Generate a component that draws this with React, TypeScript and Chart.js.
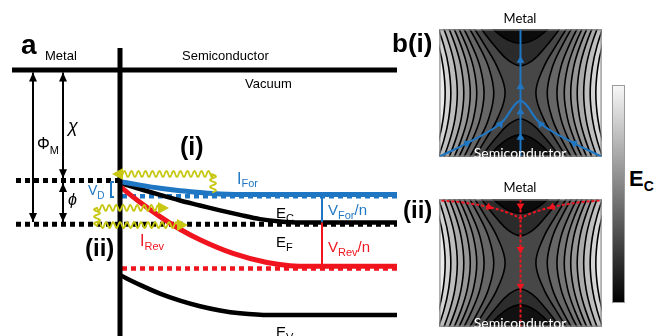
import React, { useEffect, useRef } from 'react';
import { Chart, registerables } from 'chart.js';

Chart.register(...registerables);

// ===== Panel a: band diagram. x = position from the interface (nm), y = energy (eV, vacuum = 0)
const POSITION_RANGE = [-6, 14];
const ENERGY_RANGE = [-7.6, 2.0];

const VACUUM_X = [-5.4, 13.85];
const E_VACUUM = 0;
const INTERFACE_E = [0.63, -7.8];
const BARRIER_X = [-5.2, 0];
const E_BARRIER = -3.16;
const FERMI_X = [-5.2, 13.85];
const E_FERMI = -4.41;
const QUASI_X = [0.1, 13.85];
const E_FOR_QUASI = -3.61;
const E_REV_QUASI = -5.67;

const EC_X = [0, 1, 2, 3, 4, 5, 6, 7, 8, 9, 13.85];
const EC_E = [-3.23, -3.4, -3.57, -3.73, -3.87, -4.01, -4.14, -4.26, -4.33, -4.36, -4.36];
const FOR_X = [0, 1, 2, 3, 4, 5, 6.5, 13.85];
const FOR_E = [-3.19, -3.29, -3.38, -3.45, -3.5, -3.54, -3.56, -3.56];
const REV_X = [0, 1, 2, 3, 4, 5.65, 7.35, 8.5, 9.5, 13.85];
const REV_E = [-3.33, -3.78, -4.19, -4.55, -4.85, -5.24, -5.5, -5.59, -5.61, -5.61];
const EV_X = [0, 1, 2, 3, 4, 5, 6, 7.5, 13.85];
const EV_E = [-5.86, -6.14, -6.39, -6.59, -6.75, -6.87, -6.95, -7.0, -7.0];

const SPLIT_X = 10.1;
const FOR_SPLIT_E = [-3.64, -4.36];
const REV_SPLIT_E = [-4.36, -5.62];

const PHI_M_X = -4.35;
const PHI_M_E = [-0.07, -4.34];
const CHI_X = -2.85;
const CHI_E = [-0.07, -3.09];
const PHI_B_E = [-3.23, -4.34];
const VD_X = [-0.3, -0.45, -0.45, -0.3];
const VD_E = [-3.2, -3.2, -3.63, -3.63];

const PHOTON_I_X = [4.65, 4.65, -0.4];
const PHOTON_I_E = [-3.49, -2.97, -2.97];
const PHOTON_IIA_X = [-1.15, 2.45];
const PHOTON_IIA_E = [-3.94, -3.94];
const PHOTON_IIB_X = [-1.15, -1.15, 3.4];
const PHOTON_IIB_E = [-3.94, -4.43, -4.43];

// ===== Panel b: E_C maps. u = lateral position, v = vertical position (both normalised -1..1)
const SADDLE_V = [1.5, 1.15, 0.75, 0.4, 0, -0.4, -0.75, -1.15, -1.5];
const SIDE_CONTOURS = [
  [0.816, 0.637, 0.44, 0.284, 0.19, 0.284, 0.44, 0.637, 0.816],
  [0.86, 0.692, 0.516, 0.392, 0.33, 0.392, 0.516, 0.692, 0.86],
  [0.912, 0.757, 0.6, 0.497, 0.45, 0.497, 0.6, 0.757, 0.912],
  [0.96, 0.814, 0.67, 0.58, 0.54, 0.58, 0.67, 0.814, 0.96],
  [1.007, 0.869, 0.736, 0.655, 0.62, 0.655, 0.736, 0.869, 1.007],
  [1.058, 0.928, 0.805, 0.731, 0.7, 0.731, 0.805, 0.928, 1.058],
  [1.113, 0.989, 0.875, 0.808, 0.78, 0.808, 0.875, 0.989, 1.113],
  [1.17, 1.054, 0.947, 0.886, 0.86, 0.886, 0.947, 1.054, 1.17],
  [1.223, 1.111, 1.011, 0.954, 0.93, 0.954, 1.011, 1.111, 1.223],
];
const CAP_U = [-0.7, -0.45, -0.3, -0.15, 0, 0.15, 0.3, 0.45, 0.7];
const TOP_CONTOURS = [
  [1.391, 0.953, 0.712, 0.515, 0.43, 0.515, 0.712, 0.953, 1.391],
  [1.535, 1.153, 0.964, 0.829, 0.779, 0.829, 0.964, 1.153, 1.535],
];
const BOTTOM_CONTOURS = [
  [-1.385, -0.944, -0.7, -0.498, -0.41, -0.498, -0.7, -0.944, -1.385],
  [-1.478, -1.077, -0.871, -0.718, -0.66, -0.718, -0.871, -1.077, -1.478],
];

const FORWARD_STEM_V = [-1, 1];
const FORWARD_BRANCH_U = [1.0, 0.647, 0.247, 0.07, 0];
const FORWARD_BRANCH_V = [-1.0, -0.78, -0.48, -0.185, -0.11];
const FORWARD_ARROW_U = [0, 0, 0, 0, -0.66, -0.25, 0.66, 0.25];
const FORWARD_ARROW_V = [0.51, 0.1, -0.3, -0.7, -0.79, -0.49, -0.79, -0.49];
const FORWARD_ARROW_DEG = [0, 0, 0, 0, 61, 37, -61, -37];

const REVERSE_STEM_V = [1, -1];
const REVERSE_BRANCH_U = [0.976, 0.7, 0.388, 0.15, 0];
const REVERSE_BRANCH_V = [0.985, 0.95, 0.881, 0.79, 0.704];
const REVERSE_ARROW_U = [0, 0, 0, -0.39, 0.39];
const REVERSE_ARROW_V = [0.9, 0.215, -0.363, 0.88, 0.88];
const REVERSE_ARROW_DEG = [180, 180, 180, 112, -112];

const COLORBAR_LEVELS = [0, 1];

// ===== styles
const BLUE = '#1f77c4';
const RED = '#f0141e';
const YELLOW = '#c8c814';
const CENTER_GRAY = '#474747';
const SIDE_GRAYS = ['#585858', '#666666', '#757575', '#858585', '#979797', '#aaaaaa', '#bebebe', '#d3d3d3', '#ebebeb'];
const TOP_GRAYS = ['#2b2b2b', '#0c0c0c'];
const BOTTOM_GRAYS = ['#2d2d2d', '#111111'];
const SANS = '"Liberation Sans", Arial, sans-serif';
const LATO = 'Lato, "Open Sans", sans-serif';

type P = { x: number; y: number };
const zip = (xs: number[], ys: number[]): P[] => xs.map((x, i) => ({ x, y: ys[i] }));
const flat = (xs: number[], y: number): P[] => xs.map((x) => ({ x, y }));
const vert = (x: number, ys: number[]): P[] => ys.map((y) => ({ x, y }));

function line(data: P[], color: string, width: number, extra: any = {}) {
  return { data, borderColor: color, backgroundColor: color, borderWidth: width, pointRadius: 0, fill: false, tension: 0, ...extra };
}

function head(ctx: CanvasRenderingContext2D, tip: P, from: P, len: number, w: number, color: string) {
  const dx = tip.x - from.x, dy = tip.y - from.y;
  const d = Math.hypot(dx, dy) || 1;
  const ux = dx / d, uy = dy / d;
  const bx = tip.x - ux * len, by = tip.y - uy * len;
  ctx.save();
  ctx.fillStyle = color;
  ctx.beginPath();
  ctx.moveTo(tip.x, tip.y);
  ctx.lineTo(bx - uy * w, by + ux * w);
  ctx.lineTo(bx + uy * w, by - ux * w);
  ctx.closePath();
  ctx.fill();
  ctx.restore();
}

function wavy(ctx: CanvasRenderingContext2D, p: P[], cfg: any, color: string) {
  const segs: any[] = [];
  let total = 0;
  for (let i = 0; i < p.length - 1; i++) {
    const dx = p[i + 1].x - p[i].x, dy = p[i + 1].y - p[i].y;
    const len = Math.hypot(dx, dy) || 1;
    segs.push({ x: p[i].x, y: p[i].y, ux: dx / len, uy: dy / len, len });
    total += len;
  }
  const stop = total - cfg.headLength + 1;
  ctx.save();
  ctx.strokeStyle = color;
  ctx.lineWidth = cfg.lineWidth;
  ctx.lineJoin = 'round';
  ctx.lineCap = 'round';
  ctx.beginPath();
  let acc = 0;
  let started = false;
  for (const s of segs) {
    for (let t = 0; t <= s.len; t += 0.5) {
      const d = acc + t;
      if (d > stop) break;
      const off = cfg.amp * Math.sin((2 * Math.PI * d) / cfg.wavelength);
      const x = s.x + s.ux * t - s.uy * off;
      const y = s.y + s.uy * t + s.ux * off;
      if (!started) { ctx.moveTo(x, y); started = true; } else ctx.lineTo(x, y);
    }
    acc += s.len;
  }
  ctx.stroke();
  const last = segs[segs.length - 1];
  const tip = p[p.length - 1];
  head(ctx, tip, { x: tip.x - last.ux, y: tip.y - last.uy }, cfg.headLength, cfg.headWidth, color);
  ctx.restore();
}

const decorPlugin = {
  id: 'decor',
  afterDatasetsDraw(chart: any) {
    const ctx = chart.ctx;
    chart.data.datasets.forEach((ds: any, i: number) => {
      const meta = chart.getDatasetMeta(i);
      const p: P[] = meta.data.map((e: any) => ({ x: e.x, y: e.y }));
      if (p.length < 2) return;
      if (ds.wave) wavy(ctx, p, ds.wave, ds.borderColor);
      if (ds.arrowHead) {
        const a = ds.arrowHead;
        if (a.end) head(ctx, p[p.length - 1], p[p.length - 2], a.length, a.width, ds.borderColor);
        if (a.start) head(ctx, p[0], p[1], a.length, a.width, ds.borderColor);
      }
    });
  },
};

function baseOptions(xr: number[], yr: number[]) {
  return {
    responsive: false,
    animation: false,
    events: [],
    layout: { padding: 0 },
    plugins: { legend: { display: false }, tooltip: { enabled: false }, title: { display: false } },
    scales: {
      x: { type: 'linear', min: xr[0], max: xr[1], display: false },
      y: { type: 'linear', min: yr[0], max: yr[1], display: false },
    },
    elements: { line: { capBezierPoints: false }, point: { radius: 0 } },
  };
}

function ordered(list: any[]) {
  return list.map((d, i) => ({ ...d, order: list.length - i }));
}

function bandConfig() {
  const dash = { borderDash: [5, 4], borderCapStyle: 'butt' };
  const arrowHead = (start: boolean, end: boolean) => ({ start, end, length: 9, width: 4 });
  const wave = { amp: 3, wavelength: 7, lineWidth: 1.8, headLength: 11, headWidth: 6 };
  const photon = (d: P[]) => ({ data: d, borderColor: YELLOW, showLine: false, pointRadius: 0, wave });
  const smooth = { cubicInterpolationMode: 'monotone' };
  const datasets = [
    line(flat(FERMI_X, E_FERMI), '#000', 5, dash),
    line(flat(BARRIER_X, E_BARRIER), '#000', 5, dash),
    line(flat(QUASI_X, E_FOR_QUASI), BLUE, 4.5, dash),
    line(flat(QUASI_X, E_REV_QUASI), RED, 4.5, dash),
    line(zip(EC_X, EC_E), '#000', 4.5, smooth),
    line(zip(FOR_X, FOR_E), BLUE, 5, smooth),
    line(zip(REV_X, REV_E), RED, 5, smooth),
    line(zip(EV_X, EV_E), '#000', 4.5, smooth),
    line(flat(VACUUM_X, E_VACUUM), '#000', 5),
    line(vert(0, INTERFACE_E), '#000', 5),
    line(vert(SPLIT_X, FOR_SPLIT_E), BLUE, 2),
    line(vert(SPLIT_X, REV_SPLIT_E), RED, 2),
    line(vert(PHI_M_X, PHI_M_E), '#000', 2, { arrowHead: arrowHead(true, true) }),
    line(vert(CHI_X, CHI_E), '#000', 2, { arrowHead: arrowHead(true, true) }),
    line(vert(CHI_X, PHI_B_E), '#000', 2, { arrowHead: arrowHead(true, true) }),
    line(zip(VD_X, VD_E), BLUE, 2),
    photon(zip(PHOTON_I_X, PHOTON_I_E)),
    photon(zip(PHOTON_IIA_X, PHOTON_IIA_E)),
    photon(zip(PHOTON_IIB_X, PHOTON_IIB_E)),
  ];
  return {
    type: 'line',
    data: { datasets: ordered(datasets) },
    options: baseOptions(POSITION_RANGE, ENERGY_RANGE),
    plugins: [decorPlugin],
  };
}

function shape(data: P[], color: string) {
  return { data, backgroundColor: color, borderColor: color, borderWidth: 0, pointRadius: 0, fill: 'shape', tension: 0.4 };
}

function contourConfig(mode: 'forward' | 'reverse') {
  const list: any[] = [];
  list.push(shape([{ x: -1.3, y: -1.3 }, { x: 1.3, y: -1.3 }, { x: 1.3, y: 1.3 }, { x: -1.3, y: 1.3 }], CENTER_GRAY));
  for (const side of [-1, 1]) {
    SIDE_CONTOURS.forEach((us, k) => {
      const curve = us.map((u, j) => ({ x: side * u, y: SADDLE_V[j] }));
      list.push(shape([...curve, { x: side * 2, y: -1.5 }, { x: side * 2, y: 1.5 }], SIDE_GRAYS[k]));
    });
  }
  TOP_CONTOURS.forEach((vs, k) => {
    list.push(shape([...zip(CAP_U, vs), { x: 0.7, y: 2.2 }, { x: -0.7, y: 2.2 }], TOP_GRAYS[k]));
  });
  BOTTOM_CONTOURS.forEach((vs, k) => {
    list.push(shape([...zip(CAP_U, vs), { x: 0.7, y: -2.2 }, { x: -0.7, y: -2.2 }], BOTTOM_GRAYS[k]));
  });
  for (const side of [-1, 1]) {
    SIDE_CONTOURS.forEach((us) => {
      list.push(line(us.map((u, j) => ({ x: side * u, y: SADDLE_V[j] })), '#000', 1.6, { tension: 0.4 }));
    });
  }
  [...TOP_CONTOURS, ...BOTTOM_CONTOURS].forEach((vs) => list.push(line(zip(CAP_U, vs), '#000', 1.6, { tension: 0.4 })));
  list.push(line([{ x: -1, y: -1 }, { x: 1, y: -1 }, { x: 1, y: 1 }, { x: -1, y: 1 }, { x: -1, y: -1 }], '#8a8a8a', 2));

  const arrows = (us: number[], vs: number[], deg: number[], color: string) => ({
    data: zip(us, vs), showLine: false, pointStyle: 'triangle', pointRadius: 4.5, pointBorderWidth: 0,
    pointBackgroundColor: color, pointBorderColor: color, pointRotation: deg, borderColor: color,
  });
  if (mode === 'forward') {
    list.push(line(vert(0, FORWARD_STEM_V), BLUE, 2));
    list.push(line(zip(FORWARD_BRANCH_U.map((u) => -u), FORWARD_BRANCH_V), BLUE, 2, { tension: 0.4 }));
    list.push(line(zip(FORWARD_BRANCH_U, FORWARD_BRANCH_V), BLUE, 2, { tension: 0.4 }));
    list.push(arrows(FORWARD_ARROW_U, FORWARD_ARROW_V, FORWARD_ARROW_DEG, BLUE));
  } else {
    const dash = { borderDash: [3, 2] };
    list.push(line(vert(0, REVERSE_STEM_V), RED, 2, dash));
    list.push(line(zip(REVERSE_BRANCH_U.map((u) => -u), REVERSE_BRANCH_V), RED, 2, { tension: 0.4, ...dash }));
    list.push(line(zip(REVERSE_BRANCH_U, REVERSE_BRANCH_V), RED, 2, { tension: 0.4, ...dash }));
    list.push(arrows(REVERSE_ARROW_U, REVERSE_ARROW_V, REVERSE_ARROW_DEG, RED));
  }
  return { type: 'line', data: { datasets: ordered(list) }, options: baseOptions([-1, 1], [-1, 1]) };
}

function colorbarConfig() {
  const lo = COLORBAR_LEVELS[0], hi = COLORBAR_LEVELS[1];
  const rect = [{ x: lo, y: lo }, { x: hi, y: lo }, { x: hi, y: hi }, { x: lo, y: hi }, { x: lo, y: lo }];
  return {
    type: 'line',
    data: {
      datasets: [{
        data: rect, fill: 'shape', borderColor: '#9a9a9a', borderWidth: 2, pointRadius: 0, tension: 0,
        backgroundColor: (c: any) => {
          const a = c.chart.chartArea;
          if (!a) return '#888';
          const g = c.chart.ctx.createLinearGradient(0, a.top, 0, a.bottom);
          g.addColorStop(0, '#f8f8f8');
          g.addColorStop(1, '#000000');
          return g;
        },
      }],
    },
    options: baseOptions([lo, hi], [lo, hi]),
  };
}

function ChartBox({ make, left, top, width, height }: any) {
  const ref = useRef<HTMLCanvasElement>(null);
  useEffect(() => {
    const chart = new Chart(ref.current as HTMLCanvasElement, make());
    return () => chart.destroy();
  }, []);
  return <canvas ref={ref} width={width} height={height} style={{ position: 'absolute', left, top, width, height }} />;
}

function T({ x, y, size, children, color = '#000', bold = false, italic = false, font = SANS, center = false, base = 0.85 }: any) {
  return (
    <div style={{
      position: 'absolute', left: x, top: y - base * size, fontFamily: font, fontSize: size, lineHeight: 1, color,
      fontWeight: bold ? 700 : 400, fontStyle: italic ? 'italic' : 'normal', whiteSpace: 'nowrap',
      transform: center ? 'translateX(-50%)' : undefined,
    }}>{children}</div>
  );
}
const S = ({ size, drop, children }: any) => (
  <span style={{ fontSize: size, position: 'relative', top: drop, fontStyle: 'normal' }}>{children}</span>
);

export default function App() {
  return (
    <div style={{ position: 'absolute', left: 0, top: 0, width: 654, height: 336, background: '#fff', overflow: 'hidden' }}>
      <ChartBox make={bandConfig} left={0} top={0} width={400} height={336} />
      <ChartBox make={() => contourConfig('forward')} left={435} top={25} width={171} height={136} />
      <ChartBox make={() => contourConfig('reverse')} left={435} top={195} width={171} height={136} />
      <ChartBox make={colorbarConfig} left={612} top={85} width={13} height={218} />

      <T x={21} y={55} size={28} bold>a</T>
      <T x={45} y={60} size={13}>Metal</T>
      <T x={182} y={60} size={13}>Semiconductor</T>
      <T x={245} y={88} size={13}>Vacuum</T>
      <T x={37} y={150} size={16}>Φ<S size={11} drop={5}>M</S></T>
      <T x={68} y={132} size={18} italic>χ</T>
      <T x={68} y={206} size={16} italic>ϕ</T>
      <T x={180} y={155} size={25} bold>(i)</T>
      <T x={85} y={256} size={24} bold>(ii)</T>
      <T x={88} y={195} size={14} color={BLUE}>V<S size={10} drop={4}>D</S></T>
      <T x={237} y={185} size={16} color={BLUE}>I<S size={11} drop={3}>For</S></T>
      <T x={140} y={247} size={16} color={RED}>I<S size={11} drop={4}>Rev</S></T>
      <T x={276} y={218} size={15}>E<S size={11} drop={4}>C</S></T>
      <T x={276} y={247} size={15}>E<S size={11} drop={4}>F</S></T>
      <T x={276} y={337} size={15}>E<S size={11} drop={4}>V</S></T>
      <T x={328} y={215} size={15} color={BLUE}>V<S size={11} drop={4}>For</S>/n</T>
      <T x={328} y={252} size={15} color={RED}>V<S size={11} drop={4}>Rev</S>/n</T>

      <T x={392} y={52} size={26} bold>b(i)</T>
      <T x={403} y={218} size={24} bold>(ii)</T>
      <T x={520} y={24} size={13} font={LATO} base={0.89} center>Metal</T>
      <T x={520} y={193} size={13} font={LATO} base={0.89} center>Metal</T>
      <T x={520} y={158} size={14} font={LATO} base={0.89} center color="#fff">Semiconductor</T>
      <T x={520} y={328} size={14} font={LATO} base={0.89} center color="#fff">Semiconductor</T>
      <T x={629} y={187} size={22} bold>E<S size={14} drop={5}>C</S></T>
    </div>
  );
}
